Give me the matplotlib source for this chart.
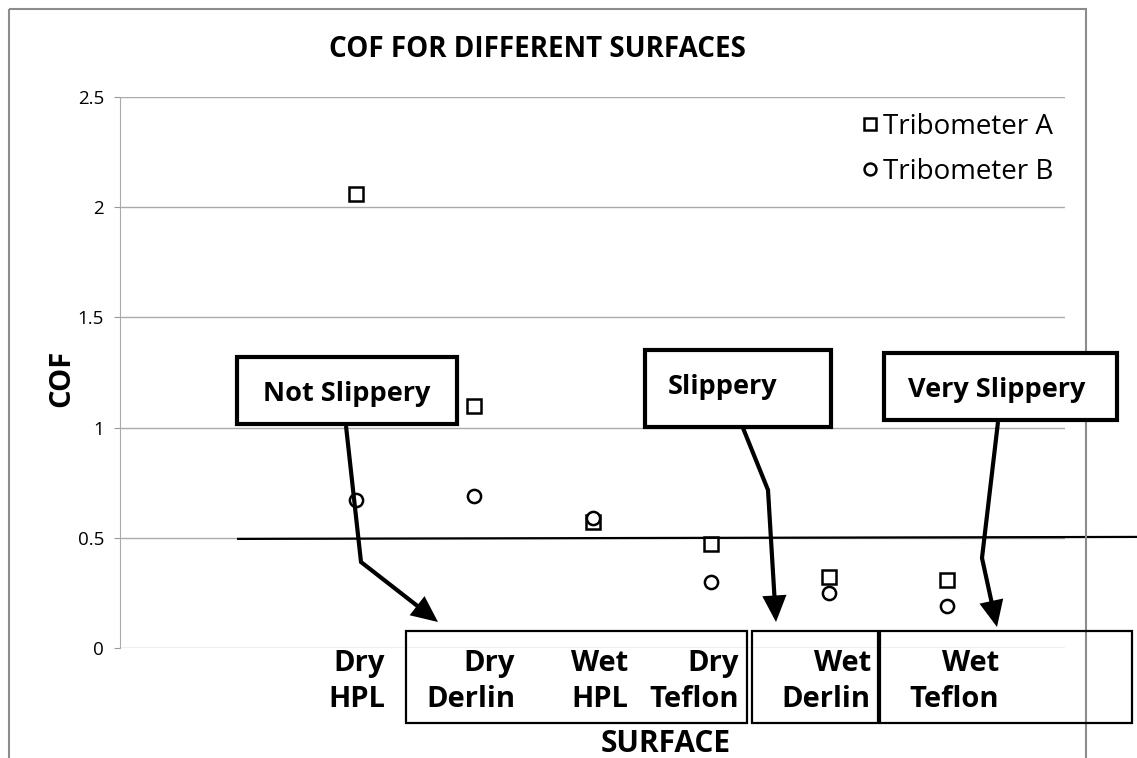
import matplotlib
matplotlib.use("Agg")
import matplotlib.pyplot as plt
import matplotlib.transforms as mtransforms
from matplotlib.patches import Rectangle, FancyArrowPatch
from matplotlib.path import Path

plt.rcParams['font.family'] = ['Open Sans', 'DejaVu Sans']

# data
surfaces = ['Dry\nHPL', 'Dry\nDerlin', 'Wet\nHPL', 'Dry\nTeflon', 'Wet\nDerlin', 'Wet\nTeflon']
tribo_a = [2.06, 1.10, 0.57, 0.47, 0.32, 0.31]
tribo_b = [0.67, 0.69, 0.59, 0.30, 0.25, 0.19]
limit_x = [0.0, 7.6]
limit_y = [0.495, 0.504]
y_ticks = [0, 0.5, 1, 1.5, 2, 2.5]
y_tick_labels = ['0', '0.5', '1', '1.5', '2', '2.5']

# right edge of each category label, px to the right of its category
label_dx = [29, 41, 36, 28, 42, 52]

W, H = 1137, 758
fig = plt.figure(figsize=(W / 100, H / 100), dpi=100)
# pixel coords (y from top) -> figure
px = mtransforms.Affine2D().scale(1 / W, -1 / H).translate(0, 1) + fig.transFigure

ax = fig.add_axes([120 / W, 1 - 648 / H, (1065 - 120) / W, (648 - 97) / H])
xs = list(range(1, len(surfaces) + 1))

ax.set_xlim(-1, 7)
ax.set_ylim(0, 2.5)
ax.set_yticks(y_ticks, y_tick_labels, fontsize=13.5)
ax.set_xticks(xs, [])
ax.tick_params(axis='x', length=0)
ax.tick_params(axis='y', length=4.5, color='#999999', pad=7)
ax.grid(axis='y', color='#aaaaaa', lw=1.0)
ax.set_axisbelow(True)
for s in ['top', 'right', 'bottom']:
    ax.spines[s].set_visible(False)
ax.spines['left'].set_color('#aaaaaa')

for x, lab, dx in zip(xs, surfaces, label_dx):
    tr = ax.transData + mtransforms.ScaledTranslation(dx / 100, -1 / 100, fig.dpi_scale_trans)
    ax.text(x, 0, lab, transform=tr, ha='right', va='top', multialignment='right',
            fontsize=21, fontweight='bold', linespacing=1.32)

ax.plot(xs, tribo_a, ls='none', marker='s', ms=9.5, mfc='white', mec='black', mew=1.8,
        label='Tribometer A', zorder=3)
ax.plot(xs, tribo_b, ls='none', marker='o', ms=9.5, mfc='white', mec='black', mew=1.8,
        label='Tribometer B', zorder=3)
ax.plot(limit_x, limit_y, color='black', lw=1.6, clip_on=False, zorder=4)

leg = ax.legend(loc='upper left', bbox_to_anchor=(848, 99), bbox_transform=px,
                frameon=False, fontsize=20, handlelength=0.6, handletextpad=0.15,
                labelspacing=0.6, borderpad=0, markerscale=0.9)

# titles
fig.text(537, 57, 'COF FOR DIFFERENT SURFACES', transform=px, ha='center', va='baseline',
         fontsize=20, fontweight='bold')
fig.text(666, 752, 'SURFACE', transform=px, ha='center', va='baseline',
         fontsize=21.5, fontweight='bold')
fig.text(69, 378, 'COF', transform=px, ha='center', va='baseline', rotation=90,
         rotation_mode='anchor', fontsize=21, fontweight='bold')

# chart area border
fig.add_artist(Rectangle((9, 9), 1077, 800, transform=px, fill=False, ec='#8c8c8c', lw=1.5,
                         clip_on=False))

# thin boxes round the category labels
for x0, x1 in [(406, 747), (752, 878), (880, 1132)]:
    fig.add_artist(Rectangle((x0, 723), x1 - x0, 631 - 723, transform=px, fill=False,
                             ec='black', lw=1.6, zorder=5))

# callouts
callouts = [
    ('Not Slippery', (237, 357, 457, 424), (263, 401),
     [(346, 426), (361, 562), (438, 622)]),
    ('Slippery', (645, 350, 831, 427), (668, 394),
     [(743, 428), (768, 490), (776, 622)]),
    ('Very Slippery', (884, 353, 1117, 420), (908, 397),
     [(998, 422), (982, 558), (997, 627)]),
]
for label, (x0, y0, x1, y1), (tx, ty), pts in callouts:
    fig.add_artist(Rectangle((x0, y1), x1 - x0, y0 - y1, transform=px, fc='white', ec='black',
                             lw=3.0, zorder=6))
    fig.text(tx, ty, label, transform=px, ha='left', va='baseline', fontsize=19.5,
             fontweight='bold', zorder=7)
    codes = [Path.MOVETO] + [Path.LINETO] * (len(pts) - 1)
    arr = FancyArrowPatch(path=Path(pts, codes), transform=px,
                          arrowstyle='-|>,head_length=0.7,head_width=0.32',
                          mutation_scale=20, lw=3.0, color='black',
                          joinstyle='miter', capstyle='butt', zorder=6)
    fig.add_artist(arr)

fig.savefig('out.png', dpi=100)
